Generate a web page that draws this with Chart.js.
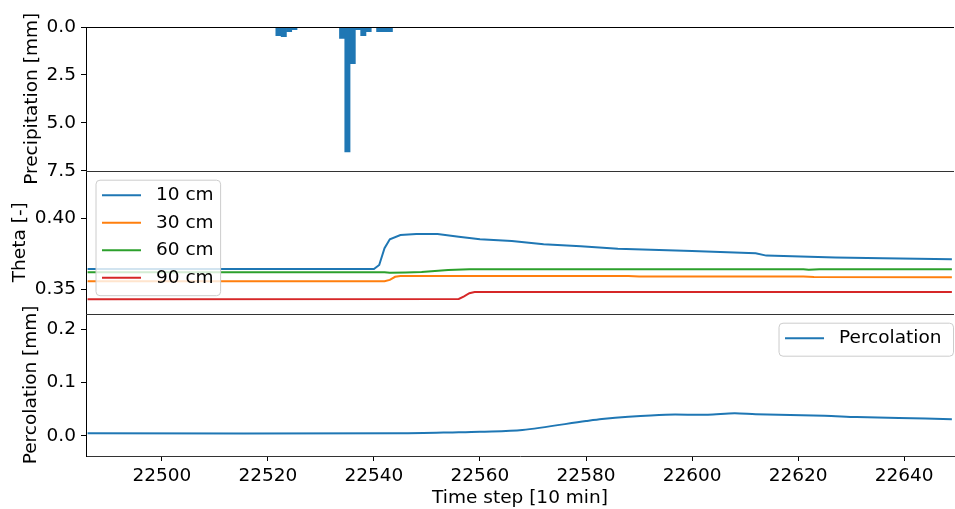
<!DOCTYPE html>
<html lang="en">
<head>
    <meta charset="UTF-8">
    <title>Precipitation, soil moisture and percolation</title>
    <style>
        body { background: #fff; margin: 0; }
        #figure { position: relative; width: 955px; height: 509px; }
        #figure canvas { position: absolute; left: 0; top: 0; }
    </style>
    <script src="https://cdn.jsdelivr.net/npm/chart.js@4"></script>
</head>
<body>
<div id="figure">
    <canvas id="precipChart" width="955" height="509"></canvas>
    <canvas id="thetaChart" width="955" height="509"></canvas>
    <canvas id="percChart" width="955" height="509"></canvas>
</div>

<script>
    // shared time axis
    const X_MIN = 22485.7;
    const X_MAX = 22649.4;
    const timeTicks = [22500, 22520, 22540, 22560, 22580, 22600, 22620, 22640];

    // precipitation per 10-min step [mm]
    const precipSteps = [22522, 22523, 22524, 22525, 22534, 22535, 22536, 22537, 22538, 22539, 22541, 22542, 22543];
    const precipMm    = [0.45, 0.50, 0.25, 0.14, 0.60, 6.52, 1.92, 0.14, 0.45, 0.25, 0.25, 0.25, 0.25];
    const precipTicks = [0, 2.5, 5, 7.5];

    // soil moisture (Theta) at four depths
    const theta10Steps = [22486, 22540, 22541, 22542, 22543, 22545, 22548, 22552, 22556, 22560, 22566, 22572, 22579, 22586, 22600, 22612, 22614, 22627, 22636, 22649];
    const theta10      = [0.3643, 0.3643, 0.3671, 0.3789, 0.3852, 0.3882, 0.3889, 0.3890, 0.3870, 0.3852, 0.3840, 0.3817, 0.3803, 0.3786, 0.3770, 0.3754, 0.3737, 0.3723, 0.3718, 0.3711];
    const theta30Steps = [22486, 22542, 22543, 22544, 22545, 22588, 22590, 22621, 22623, 22649];
    const theta30      = [0.3556, 0.3556, 0.3566, 0.3588, 0.3594, 0.3594, 0.3590, 0.3590, 0.3587, 0.3585];
    const theta60Steps = [22486, 22542, 22543, 22546, 22549, 22554, 22558, 22621, 22622, 22624, 22649];
    const theta60      = [0.3620, 0.3620, 0.3617, 0.3619, 0.3622, 0.3636, 0.3641, 0.3641, 0.3637, 0.3641, 0.3641];
    const theta90Steps = [22486, 22556, 22557, 22558, 22559, 22649];
    const theta90      = [0.3430, 0.3432, 0.3450, 0.3472, 0.3480, 0.3481];
    const thetaTicks = [0.35, 0.40];

    // percolation [mm]
    const percSteps = [22486, 22545, 22556, 22560, 22568, 22580, 22583, 22588, 22595, 22603, 22608, 22612, 22625, 22631, 22639, 22649];
    const percMm    = [0.005, 0.005, 0.007, 0.008, 0.0113, 0.0281, 0.032, 0.0362, 0.0400, 0.0400, 0.0425, 0.0407, 0.038, 0.0356, 0.0338, 0.0313];
    const percTicks = [0, 0.1, 0.2];

    const pairs = (xs, ys) => xs.map((x, i) => ({x: x, y: ys[i]}));

    const FONT_SIZE = 18.5;
    Chart.defaults.font.family = "'DejaVu Sans', sans-serif";
    Chart.defaults.font.size = FONT_SIZE;
    Chart.defaults.color = '#000';

    // horizontal spines between the panels
    const frame = {
        id: 'frame',
        afterDraw(chart, args, opts) {
            const {ctx, chartArea: a} = chart;
            ctx.save();
            ctx.lineWidth = 1;
            ['top', 'bottom'].forEach(edge => {
                if (!opts[edge]) return;
                const y = Math.round(a[edge]) + 0.5;
                ctx.strokeStyle = opts[edge];
                ctx.beginPath();
                ctx.moveTo(a.left, y);
                ctx.lineTo(a.right, y);
                ctx.stroke();
            });
            ctx.restore();
        }
    };

    // matplotlib-like framed legend, drawn above the lines
    const boxLegend = {
        id: 'boxLegend',
        afterDatasetsDraw(chart, args, opts) {
            if (!opts.show) return;
            const {ctx, chartArea: a} = chart;
            const sets = chart.data.datasets;
            ctx.save();
            ctx.font = FONT_SIZE + "px 'DejaVu Sans'";
            const textW = Math.max(...sets.map(d => ctx.measureText(d.label).width));
            const w = 6 + 39 + 15 + textW + opts.padRight;
            const h = 15 + (sets.length - 1) * 27.5 + 18;
            const left = opts.align === 'right' ? a.right - 0.5 - w : a.left + 10;
            const top = a.top + 9.5;
            ctx.beginPath();
            ctx.roundRect(left, top, w, h, 4);
            ctx.fillStyle = 'rgba(255,255,255,0.8)';
            ctx.fill();
            ctx.strokeStyle = '#cccccc';
            ctx.lineWidth = 1;
            ctx.stroke();
            ctx.textBaseline = 'middle';
            ctx.textAlign = 'left';
            sets.forEach((d, i) => {
                const y = top + 15 + i * 27.5;
                ctx.strokeStyle = d.borderColor;
                ctx.lineWidth = 2;
                ctx.beginPath();
                ctx.moveTo(left + 6, y);
                ctx.lineTo(left + 45, y);
                ctx.stroke();
                ctx.fillStyle = '#000';
                ctx.fillText(d.label, left + 60, y);
            });
            ctx.restore();
        }
    };

    function yAxis(min, max, ticks, digits, title, titlePad, extra) {
        return Object.assign({
            min: min,
            max: max,
            afterBuildTicks: s => { s.ticks = ticks.map(v => ({value: v})); },
            afterFit: s => { s.width = 86; },
            ticks: {padding: 5, callback: v => Number(v).toFixed(digits)},
            grid: {drawOnChartArea: false, tickLength: 5, tickColor: '#000'},
            border: {color: '#000'},
            title: {display: true, text: title, padding: {top: titlePad, bottom: 0}}
        }, extra || {});
    }

    const hiddenX = {type: 'linear', min: X_MIN, max: X_MAX, offset: false, display: false, grid: {offset: false}};

    const baseOptions = {
        responsive: false,
        animation: false,
        events: []
    };

    // precipitation (inverted bars)
    new Chart(document.getElementById('precipChart'), {
        type: 'bar',
        data: {
            datasets: [{
                label: 'Precipitation',
                data: pairs(precipSteps, precipMm),
                backgroundColor: '#1f77b4',
                borderWidth: 0,
                barPercentage: 1,
                categoryPercentage: 1
            }]
        },
        options: Object.assign({}, baseOptions, {
            layout: {padding: {top: 27, bottom: 338.3, left: 0, right: 1}},
            plugins: {legend: {display: false}, tooltip: {enabled: false}, frame: {top: '#000', bottom: '#333'}, boxLegend: {show: false}},
            scales: {
                x: hiddenX,
                y: yAxis(0, 7.5, precipTicks, 1, 'Precipitation [mm]', 21, {reverse: true})
            }
        }),
        plugins: [frame, boxLegend]
    });

    // soil moisture
    const thetaColors = ['#1f77b4', '#ff7f0e', '#2ca02c', '#d62728'];
    const thetaLines = [
        ['10 cm', theta10Steps, theta10],
        ['30 cm', theta30Steps, theta30],
        ['60 cm', theta60Steps, theta60],
        ['90 cm', theta90Steps, theta90]
    ];
    new Chart(document.getElementById('thetaChart'), {
        type: 'line',
        data: {
            datasets: thetaLines.map((l, i) => ({
                label: l[0],
                data: pairs(l[1], l[2]),
                borderColor: thetaColors[i],
                borderWidth: 2,
                pointRadius: 0,
                tension: 0,
                fill: false
            }))
        },
        options: Object.assign({}, baseOptions, {
            layout: {padding: {top: 170.7, bottom: 195.3, left: 0, right: 1}},
            plugins: {legend: {display: false}, tooltip: {enabled: false}, frame: {top: '#333', bottom: '#333'}, boxLegend: {show: true, align: 'left', padRight: 7}},
            scales: {
                x: hiddenX,
                y: yAxis(0.3328, 0.4335, thetaTicks, 2, 'Theta [-]', 9)
            }
        }),
        plugins: [frame, boxLegend]
    });

    // percolation
    new Chart(document.getElementById('percChart'), {
        type: 'line',
        data: {
            datasets: [{
                label: 'Percolation',
                data: pairs(percSteps, percMm),
                borderColor: '#1f77b4',
                borderWidth: 2,
                pointRadius: 0,
                tension: 0.3,
                fill: false
            }]
        },
        options: Object.assign({}, baseOptions, {
            layout: {padding: {top: 313.7, bottom: 0, left: 0, right: 1}},
            plugins: {legend: {display: false}, tooltip: {enabled: false}, frame: {top: '#333'}, boxLegend: {show: true, align: 'right', padRight: 12}},
            scales: {
                x: {
                    type: 'linear',
                    min: X_MIN,
                    max: X_MAX,
                    afterBuildTicks: s => { s.ticks = timeTicks.map(v => ({value: v})); },
                    afterFit: s => { s.height = 53; },
                    ticks: {padding: 4, maxRotation: 0, autoSkip: false, callback: v => String(v)},
                    grid: {drawOnChartArea: false, tickLength: 5, tickColor: '#000'},
                    border: {color: '#333'},
                    title: {display: true, text: 'Time step [10 min]', padding: {top: 0, bottom: 0}}
                },
                y: yAxis(-0.0375, 0.2292, percTicks, 1, 'Percolation [mm]', 20)
            }
        }),
        plugins: [frame, boxLegend]
    });
</script>
</body>
</html>
